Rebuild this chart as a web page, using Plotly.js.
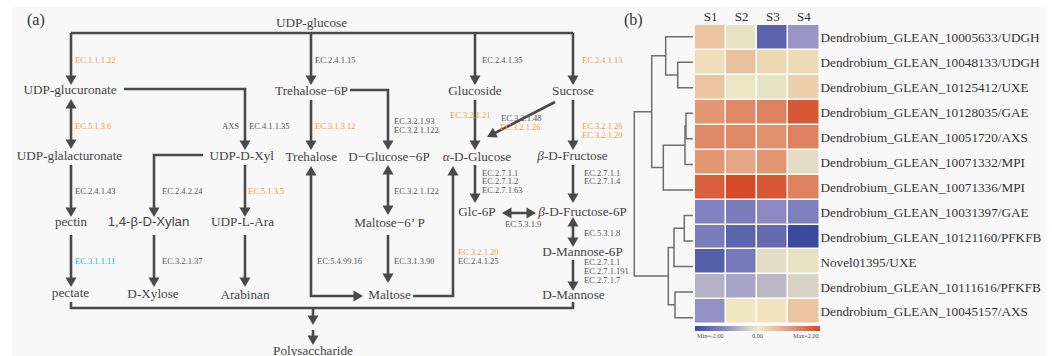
<!DOCTYPE html>
<html><head><meta charset="utf-8">
<script src="https://cdn.plot.ly/plotly-3.0.1.min.js"></script>
<style>html,body{margin:0;padding:0;background:#fff}#chart{width:1052px;height:356px}</style>
</head><body><div id="chart"></div>
<script>
// ================= DATA =================
const SAMPLES = ['S1','S2','S3','S4'];
const GENES = [
  'Dendrobium_GLEAN_10005633/UDGH',
  'Dendrobium_GLEAN_10048133/UDGH',
  'Dendrobium_GLEAN_10125412/UXE',
  'Dendrobium_GLEAN_10128035/GAE',
  'Dendrobium_GLEAN_10051720/AXS',
  'Dendrobium_GLEAN_10071332/MPI',
  'Dendrobium_GLEAN_10071336/MPI',
  'Dendrobium_GLEAN_10031397/GAE',
  'Dendrobium_GLEAN_10121160/PFKFB',
  'Novel01395/UXE',
  'Dendrobium_GLEAN_10111616/PFKFB',
  'Dendrobium_GLEAN_10045157/AXS'
];
const EXPR = [
  [ 0.50, -0.10, -1.62, -0.90],
  [ 0.15,  0.55,  0.25,  0.20],
  [ 0.50, -0.05, -0.10,  0.35],
  [ 1.10,  1.25,  1.35,  1.85],
  [ 1.25,  1.25,  1.15,  1.35],
  [ 1.10,  0.90,  1.10, -0.15],
  [ 1.75,  2.00,  1.85,  1.35],
  [-1.15, -1.25, -1.05, -1.20],
  [-1.25, -1.60, -1.50, -2.00],
  [-1.70, -1.30, -0.15, -0.10],
  [-0.60, -0.75, -0.55, -0.25],
  [-0.95,  0.05,  0.10,  0.50]
];
// hierarchical clustering (ids < 12 are genes, 12+k is merge k)
const MERGE_LEFT   = [1, 0, 3, 14, 15, 13, 7, 18, 10, 19, 17];
const MERGE_RIGHT  = [2, 12, 4, 5, 6, 16, 8, 9, 11, 20, 21];
const MERGE_HEIGHT = [15.3, 27.3, 7.0, 8.0, 29.7, 41.3, 8.7, 19.0, 18.0, 24.7, 58.7];
const COLOR_MIN = -2, COLOR_MAX = 2;
const COLOR_LABELS = ['Min=-2.00', '0.00', 'Max=2.00'];

// pathway nodes
const NODES = ['UDP-glucose','UDP-glucuronate','Trehalose−6P','Glucoside','Sucrose',
  'UDP-glalacturonate','UDP-D-Xyl','Trehalose','D−Glucose−6P','<i>α</i>-D-Glucose','<i>β</i>-D-Fructose',
  'pectin','1,4-β-D-Xylan','UDP-L-Ara','Maltose−6’ P','Glc-6P','<i>β</i>-D-Fructose-6P','D-Mannose-6P',
  'pectate','D-Xylose','Arabinan','Maltose','D-Mannose','Polysaccharide'];
// enzyme labels; kind: g = unchanged, o = orange, b = blue
const EC_TEXT = ['EC.1.1.1.22','EC.2.4.1.15','EC.2.4.1.35','EC.2.4.1.13','EC.5.1.3.6','AXS','EC.4.1.1.35',
  'EC.3.1.3.12','EC.3.2.1.93','EC.3.2.1.122','EC.3.2.1.21','EC.3.2.1.48','EC.3.2.1.26','EC.3.2.1.26','EC.3.2.1.20',
  'EC.2.4.1.43','EC.2.4.2.24','EC.5.1.3.5','EC.3.2.1.122','EC.2.7.1.1','EC.2.7.1.2','EC.2.7.1.63',
  'EC.2.7.1.1','EC.2.7.1.4','EC.5.3.1.9','EC.5.3.1.8','EC.3.1.1.11','EC.3.2.1.37','EC:5.4.99.16','EC.3.1.3.90',
  'EC.3.2.1.20','EC.2.4.1.25','EC.2.7.1.1','EC.2.7.1.191','EC.2.7.1.7'];
const EC_KIND = ['o','g','g','o','o','g','g',
  'o','g','g','o','g','o','o','o',
  'g','g','o','g','g','g','g',
  'g','g','g','g','b','g','g','g',
  'o','g','g','g','g'];

// ================= LAYOUT (positions / styles) =================
const W = 1052, H = 356;
const SERIF = '"Liberation Serif", "Times New Roman", serif';
const SANS = '"Liberation Sans", Arial, sans-serif';
const NODE_X = [311.5,70,311.5,475,573, 69.5,241.7,311.3,389,477,572.5, 71,148.5,242.5,389.5,477,582.5,582.5, 70.5,153,245,389.5,573.5,313];
const NODE_Y = [24,91,92,92,92, 157,157,158,158,158,157, 223,223,223,224,213,213,252.5, 294,295,296,296,296,351.5];
const NODE_FAMILY = NODES.map(n => n === '1,4-β-D-Xylan' ? SANS : SERIF);
const EC_X = [73,313,480,580,73,241,247, 313,392,392,448,499,498,580,580, 73,160,246,392,480,480,480, 582,582,503,582,73,160,315,392, 456,456,582,582,582];
const EC_Y = [60,60,60,60,126,126,126, 126,121,130,115,118,127,126,135, 191,191,191,191,173,181,190, 173,181,224,233,261,261,261,261, 252,261,261.5,270.5,279.5];
const EC_COLOR = {g:'#555555', o:'#f29a3a', b:'#2aa8e0'};
const LINE = '#4a4a4a', LW = 2.6, HL = 9.5, HW = 5.5;
// routes: [points, heads]  heads: 'end' | 'both' | 'none'
const ROUTES = [
  [[[71,33],[573,33]],'none'],
  [[[71,33],[71,85]],'end'],
  [[[311,33],[311,85]],'end'],
  [[[475,33],[475,85]],'end'],
  [[[573,33],[573,85]],'end'],
  [[[71,99],[71,149]],'both'],
  [[[124,89],[245,89],[245,150]],'end'],
  [[[311,100],[311,150]],'end'],
  [[[350,90],[388,90],[388,150]],'end'],
  [[[475,100],[475,150]],'end'],
  [[[555,102],[487,137]],'end'],
  [[[573,100],[573,150]],'end'],
  [[[71,165],[71,217]],'end'],
  [[[203,155],[154,155],[154,217]],'end'],
  [[[245,165],[245,217]],'end'],
  [[[311,166],[311,296],[363,296]],'both'],
  [[[388,165],[388,215]],'both'],
  [[[413,296],[453,296],[453,166]],'end'],
  [[[475,165],[475,203]],'end'],
  [[[573,165],[573,203]],'end'],
  [[[502,213],[536,213]],'both'],
  [[[573,217],[573,247]],'both'],
  [[[573,260],[573,291]],'end'],
  [[[71,235],[71,287]],'end'],
  [[[154,235],[154,287]],'end'],
  [[[245,235],[245,287]],'end'],
  [[[388,235],[388,283]],'end'],
  [[[71,302],[71,308],[573,308],[573,302]],'none'],
  [[[313,308],[313,325]],'end'],
  [[[313,330],[313,345]],'end']
];

// ================= BUILD =================
const shapes = [];
const px = x => x / W, py = y => 1 - y / H;
shapes.push({type:'rect', xref:'paper', yref:'paper', x0:px(12), x1:px(1046), y0:py(356), y1:py(7),
  fillcolor:'#f8f8f8', line:{width:0}, layer:'below'});
shapes.push({type:'rect', xref:'paper', yref:'paper', x0:px(695), x1:px(819.5), y0:py(324.3), y1:py(25),
  fillcolor:'#ffffff', line:{width:0}, layer:'below'});

function unit(a, b){ const dx=a[0]-b[0], dy=a[1]-b[1], L=Math.hypot(dx,dy); return [dx/L, dy/L]; }
function head(tip, prev){
  const u = unit(tip, prev);
  const bx = tip[0]-u[0]*HL, by = tip[1]-u[1]*HL, nx = -u[1]*HW, ny = u[0]*HW;
  return `M${tip[0]},${tip[1]} L${bx+nx},${by+ny} L${bx-nx},${by-ny} Z`;
}
ROUTES.forEach(([pts, mode]) => {
  const p = pts.map(q => q.slice());
  const n = p.length;
  if (mode === 'end' || mode === 'both') {
    shapes.push({type:'path', xref:'x', yref:'y', path: head(pts[n-1], pts[n-2]), fillcolor:LINE, line:{width:0}});
    const u = unit(pts[n-1], pts[n-2]);
    p[n-1] = [pts[n-1][0]-u[0]*(HL-2), pts[n-1][1]-u[1]*(HL-2)];
  }
  if (mode === 'both') {
    shapes.push({type:'path', xref:'x', yref:'y', path: head(pts[0], pts[1]), fillcolor:LINE, line:{width:0}});
    const u = unit(pts[0], pts[1]);
    p[0] = [pts[0][0]-u[0]*(HL-2), pts[0][1]-u[1]*(HL-2)];
  }
  shapes.push({type:'path', xref:'x', yref:'y', path: 'M' + p.map(q => q[0]+','+q[1]).join(' L'),
    line:{color:LINE, width:LW}, fillcolor:'rgba(0,0,0,0)'});
});

const annotations = [];
EC_TEXT.forEach((t, i) => {
  annotations.push({x:EC_X[i], y:EC_Y[i], xref:'x', yref:'y', text:t, showarrow:false,
    xanchor: t === 'AXS' ? 'right' : 'left', yanchor:'middle',
    font:{family:SERIF, size:8.5, color:EC_COLOR[EC_KIND[i]]}});
});
annotations.push({x:36, y:20, xref:'x', yref:'y', text:'(a)', showarrow:false, font:{family:SERIF, size:16, color:'#333'}});
annotations.push({x:633, y:20, xref:'x', yref:'y', text:'(b)', showarrow:false, font:{family:SERIF, size:16, color:'#333'}});
// colour bar labels
const CB_LABEL_X = [695, 757, 821], CB_LABEL_ANCHOR = ['left','center','right'];
COLOR_LABELS.forEach((t, i) => {
  annotations.push({x:px(CB_LABEL_X[i]), y:py(335.5), xref:'paper', yref:'paper', text:t, showarrow:false,
    xanchor:CB_LABEL_ANCHOR[i], yanchor:'middle', font:{family:SERIF, size:6.2, color:'#555'}});
});

// dendrogram
const nLeaf = GENES.length;
const posY = [], posH = [];
for (let i = 0; i < nLeaf; i++) { posY[i] = i; posH[i] = 0; }
const dx = [], dy = [];
MERGE_LEFT.forEach((l, k) => {
  const r = MERGE_RIGHT[k], h = MERGE_HEIGHT[k];
  dx.push(posH[l], h, h, posH[r], null);
  dy.push(posY[l], posY[l], posY[r], posY[r], null);
  posY[nLeaf+k] = (posY[l] + posY[r]) / 2;
  posH[nLeaf+k] = h;
});

const traces = [
  {type:'scatter', mode:'text', x:NODE_X, y:NODE_Y, text:NODES, xaxis:'x', yaxis:'y',
   textposition:'middle center', hoverinfo:'skip', cliponaxis:false,
   textfont:{family:NODE_FAMILY, size:13.2, color:'#444'}},
  {type:'heatmap', x:SAMPLES, y:GENES, z:EXPR, xaxis:'x2', yaxis:'y2',
   zmin:COLOR_MIN, zmax:COLOR_MAX, xgap:1.5, ygap:1.5, hoverinfo:'skip',
   colorscale:[[0,'#3a4a9c'],[0.25,'#8f8cc6'],[0.5,'#f1ebc4'],[0.75,'#e39e7c'],[1,'#d64a28']],
   colorbar:{orientation:'h', x:px(695), xanchor:'left', y:py(326), yanchor:'top', len:124.5/W, lenmode:'fraction',
     thickness:5, outlinewidth:0, xpad:0, ypad:0, showticklabels:false, ticks:''}},
  {type:'scatter', mode:'lines', x:dx, y:dy, xaxis:'x3', yaxis:'y3', hoverinfo:'skip',
   line:{color:'#6e6e6e', width:1.5}, connectgaps:false}
];

const layout = {
  width:W, height:H, margin:{l:0,r:0,t:0,b:0}, showlegend:false,
  paper_bgcolor:'#ffffff', plot_bgcolor:'rgba(0,0,0,0)',
  xaxis:{domain:[0,1], range:[0,W], visible:false, fixedrange:true},
  yaxis:{domain:[0,1], range:[H,0], visible:false, fixedrange:true},
  xaxis2:{domain:[695/W, 819.5/W], anchor:'y2', side:'top', ticks:'', showline:false, showgrid:false, zeroline:false,
    tickfont:{family:SERIF, size:13, color:'#333'}, fixedrange:true},
  yaxis2:{domain:[py(324.3), py(25)], anchor:'x2', side:'right', autorange:'reversed', ticks:'', showline:false,
    showgrid:false, zeroline:false, tickfont:{family:SERIF, size:13.2, color:'#333'}, fixedrange:true},
  xaxis3:{domain:[630/W, 693/W], anchor:'y3', range:[63,0], visible:false, fixedrange:true},
  yaxis3:{domain:[py(330.4), py(23.9)], anchor:'x3', range:[11.5,-0.5], visible:false, fixedrange:true},
  shapes:shapes, annotations:annotations
};
Plotly.newPlot('chart', traces, layout, {displayModeBar:false, staticPlot:true});
</script></body></html>
